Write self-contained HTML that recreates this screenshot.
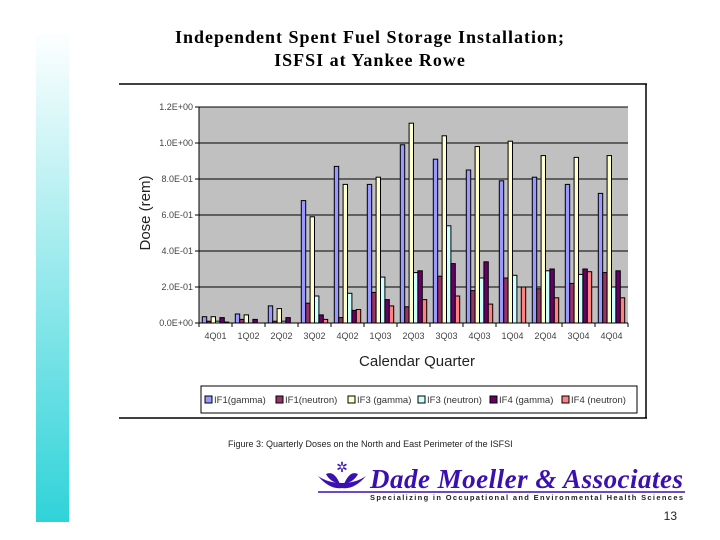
<!DOCTYPE html>
<html><head><meta charset="utf-8"><style>
body{margin:0;width:720px;height:540px;background:#fff;position:relative;overflow:hidden;font-family:"Liberation Sans",sans-serif}
.abs{position:absolute}
</style></head><body>
<div class="abs" style="left:36px;top:30px;width:33px;height:492px;background:linear-gradient(#ffffff,#2fd3d9)"></div>
<div class="abs" style="left:70px;top:26px;width:600px;text-align:center;font:bold 18px/23px 'Liberation Serif',serif;letter-spacing:1px;color:#000">Independent Spent Fuel Storage Installation;<br>ISFSI at Yankee Rowe</div>
<svg class="abs" style="left:0;top:0" width="720" height="540">
<g id="frame">
<line x1="119" y1="84" x2="647" y2="84" stroke="#000" stroke-width="1.5"/>
<line x1="646" y1="84" x2="646" y2="418" stroke="#000" stroke-width="1.5"/>
<line x1="119" y1="418" x2="647" y2="418" stroke="#000" stroke-width="1.5"/>
</g>
<rect x="199" y="107" width="429" height="216" fill="#c0c0c0"/>
<g id="grid"></g>
<g id="bars"></g>
<g id="axes"></g>
<text x="150" y="213" transform="rotate(-90 150 213)" text-anchor="middle" font-size="15" fill="#222">Dose (rem)</text>
<text x="417" y="366" text-anchor="middle" font-size="15" fill="#222">Calendar Quarter</text>
<rect x="201" y="386" width="436" height="27" fill="#fff" stroke="#000" stroke-width="1"/>
<g id="legend"></g>
<text x="228" y="447" font-size="9" fill="#222">Figure 3: Quarterly Doses on the North and East Perimeter of the ISFSI</text>
<g>
<path d="M318 476 Q330 490 342 488 Q354 490 366 476 Q356 483 342 483 Q328 483 318 476Z" fill="#3a10b0"/>
<path d="M326 474 Q334 470 340 484 Q330 482 326 474Z M358 474 Q350 470 344 484 Q354 482 358 474Z" fill="#3a10b0"/>
<text x="342" y="472" text-anchor="middle" font-size="14" fill="#3a10b0">✲</text>
<text x="370" y="488" font-family="Liberation Serif,serif" font-style="italic" font-weight="bold" font-size="27" fill="#3a10b0" textLength="313">Dade Moeller &amp; Associates</text>
<line x1="318" y1="492" x2="685" y2="492" stroke="#3a10b0" stroke-width="1.5"/>
<text x="370" y="500" font-size="7.5" font-weight="bold" fill="#222" textLength="313">Specializing in Occupational and Environmental Health Sciences</text>
</g>
<text x="677" y="520" text-anchor="end" font-size="12" fill="#222">13</text>
</svg>
<script>
const categories=["4Q01","1Q02","2Q02","3Q02","4Q02","1Q03","2Q03","3Q03","4Q03","1Q04","2Q04","3Q04","4Q04"];
const seriesNames=["IF1(gamma)","IF1(neutron)","IF3 (gamma)","IF3 (neutron)","IF4 (gamma)","IF4 (neutron)"];
const if1Gamma=[0.035,0.05,0.095,0.68,0.87,0.77,0.99,0.91,0.85,0.79,0.81,0.77,0.72];
const if1Neutron=[0.01,0.02,0.01,0.11,0.03,0.17,0.09,0.26,0.18,0.25,0.19,0.22,0.28];
const if3Gamma=[0.035,0.045,0.08,0.59,0.77,0.81,1.11,1.04,0.98,1.01,0.93,0.92,0.93];
const if3Neutron=[0.01,0,0.01,0.15,0.165,0.255,0.28,0.54,0.25,0.265,0.29,0.27,0.2];
const if4Gamma=[0.03,0.02,0.03,0.045,0.07,0.13,0.29,0.33,0.34,0,0.3,0.3,0.29];
const if4Neutron=[0.005,0,0,0.02,0.075,0.095,0.13,0.15,0.105,0.2,0.14,0.285,0.14];
const yTicks=[0,0.2,0.4,0.6,0.8,1.0,1.2];
const yTickLabels=["0.0E+00","2.0E-01","4.0E-01","6.0E-01","8.0E-01","1.0E+00","1.2E+00"];
const colors=["#9999ff","#993366","#ffffcc","#ccffff","#660066","#ff8080"];
const allSeries=[if1Gamma,if1Neutron,if3Gamma,if3Neutron,if4Gamma,if4Neutron];
const NS="http://www.w3.org/2000/svg";
const X0=199,X1=628,Y0=323,Y1=107,YMAX=1.2;
const bw=(X1-X0)/categories.length;
const y=v=>Y0-(v/YMAX)*(Y0-Y1);
const xc=i=>X0+bw*i;
function mk(tag,attrs,parent){const e=document.createElementNS(NS,tag);for(const k in attrs)e.setAttribute(k,attrs[k]);parent.appendChild(e);return e;}
const grid=document.getElementById('grid'),axes=document.getElementById('axes'),bars=document.getElementById('bars'),leg=document.getElementById('legend');
yTicks.forEach((t,i)=>{
  if(t>0){const l=mk('line',{x1:X0,x2:X1,y1:y(t),y2:y(t),stroke:'#000','stroke-width':1},grid);
  
  }
  mk('line',{x1:X0-4,x2:X0,y1:y(t),y2:y(t),stroke:'#000'},axes);
  const tx=mk('text',{x:X0-6,y:y(t)+3,'text-anchor':'end','font-size':9,fill:'#444'},axes);
  tx.textContent=yTickLabels[i];
  
  
});
mk('line',{x1:X0,x2:X0,y1:Y1,y2:Y0,stroke:'#000','stroke-width':1},axes);
mk('line',{x1:X0,x2:X1,y1:Y0,y2:Y0,stroke:'#000','stroke-width':1},axes);
const barW=bw*0.8/6;
categories.forEach((c,i)=>{
  mk('line',{x1:xc(i),x2:xc(i),y1:Y0,y2:Y0+4,stroke:'#000'},axes);
  const tx=mk('text',{x:xc(i)+bw/2,y:Y0+16,'text-anchor':'middle','font-size':9,fill:'#444'},axes);
  tx.textContent=c;
  
  
  allSeries.forEach((s,k)=>{
    const v=s[i];if(v<=0)return;
    const r=mk('rect',{x:xc(i)+bw*0.1+k*barW,y:y(v),width:barW,height:Y0-y(v),fill:colors[k],stroke:'#000','stroke-width':1},bars);
    
    
  });
});
mk('line',{x1:X1,x2:X1,y1:Y0,y2:Y0+4,stroke:'#000'},axes);
const legX=[205,276,348,418,490,562];
seriesNames.forEach((n,k)=>{
  const g=mk('g',{},leg);
  
  
  mk('rect',{x:legX[k],y:396,width:7,height:7,fill:colors[k],stroke:'#000'},g);
  const t=mk('text',{x:legX[k]+9,y:403,'font-size':9.5,fill:'#333'},g);
  t.textContent=n;
});
</script>
</body></html>
